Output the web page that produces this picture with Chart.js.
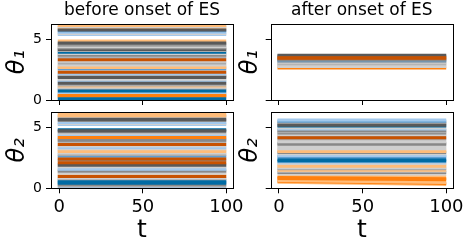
<!DOCTYPE html>
<html>
<head>
<meta charset="utf-8">
<script src="https://cdn.jsdelivr.net/npm/chart.js@4"></script>
<style>
    body { margin: 0; background: #fff; width: 463px; height: 245px; overflow: hidden; position: relative; }
    canvas { position: absolute; }
</style>
</head>
<body>
<canvas id="topLeft" width="240" height="110" style="left:0;top:0"></canvas>
<canvas id="topRight" width="227" height="110" style="left:236px;top:0"></canvas>
<canvas id="bottomLeft" width="246" height="139" style="left:0;top:106px"></canvas>
<canvas id="bottomRight" width="227" height="139" style="left:236px;top:106px"></canvas>
<script>
// time span of every line and the ticks shown
const timeSteps = [0, 99];
const xTicks = [0, 50, 100];
const yTicks = [0, 5];

// phase of each oscillator (constant in time) and its colour-cycle slot
// (first entries are drawn on top)
const theta1Before = [3.32, 2.3, 4.72, 1.85, 1.38, 0.38, 0.1, 0.75, 5.78,
    6.15, 6.05, 6.0, 5.85, 5.72, 5.6, 5.5, 5.42, 4.88, 4.62, 4.5, 4.4, 4.3, 4.18, 4.1, 3.95, 3.85, 3.72, 3.62, 3.5, 3.2, 3.05, 2.9, 2.78, 2.68, 2.58, 2.45, 2.18, 2.05, 1.95, 1.72, 1.6, 1.5, 1.25, 1.15, 1.05, 0.95, 0.85, 0.65, 0.55, 0.45, 0.3, 0.2];
const theta1BeforeSlot = [5, 5, 3, 3, 3, 1, 0, 0, 3,
    8, 9, 8, 2, 4, 7, 9, 7, 8, 6, 2, 9, 6, 3, 2, 0, 9, 6, 2, 7, 9, 2, 9, 8, 8, 4, 9, 7, 2, 6, 9, 7, 7, 2, 8, 9, 2, 7, 7, 9, 2, 1, 9];

const theta1After = [3.46, 3.5, 3.7, 3.64, 3.58, 3.36, 3.3, 3.24, 3.16, 3.08, 3.0, 2.92, 2.84, 2.76, 2.64];
const theta1AfterSlot = [5, 5, 3, 6, 2, 6, 6, 4, 2, 9, 2, 9, 9, 9, 1];

const theta2Before = [3.62, 2.42, 2.12, 0.98, 4.75, 5.68, 1.9, 4.2, 4.85,
    6.1, 6.0, 5.92, 5.85, 5.6, 5.45, 5.35, 5.28, 4.68, 4.55, 4.45, 4.35, 4.1, 3.98, 3.88, 3.75, 3.5, 3.38, 3.28, 3.15, 3.05, 2.92, 2.8, 2.65, 2.55, 2.32, 2.0, 1.78, 1.68, 1.58, 1.45, 1.38, 1.25, 1.12, 0.88, 0.78, 0.62, 0.52, 0.42, 0.32, 0.2, 0.08];
const theta2BeforeSlot = [5, 5, 5, 5, 3, 3, 3, 1, 0,
    8, 8, 2, 9, 6, 7, 9, 7, 6, 9, 7, 2, 6, 6, 2, 9, 9, 7, 9, 8, 8, 9, 2, 4, 9, 6, 2, 9, 7, 7, 6, 2, 9, 8, 9, 2, 0, 0, 0, 6, 2, 7];

// after onset a few oscillators drift slightly, so start and end differ
const theta2AfterStart = [4.18, 5.22, 2.35, 0.9, 0.8,
    5.65, 5.55, 5.45, 5.35, 5.15, 5.0, 4.9, 4.78, 4.68, 4.58, 4.45, 4.32, 4.1, 3.98, 3.85, 3.72, 3.65, 3.52, 3.4, 3.28, 3.15, 3.05, 2.95, 2.85, 2.72, 2.62, 2.5, 2.25, 2.18, 2.05, 1.95, 1.82, 1.72, 1.62, 1.5, 1.42, 1.3, 1.18, 1.0, 0.65, 0.58, 0.5];
const theta2AfterEnd = [4.18, 5.22, 2.35, 0.8, 0.7,
    5.65, 5.55, 5.45, 5.35, 5.15, 5.0, 4.9, 4.78, 4.68, 4.58, 4.45, 4.32, 4.1, 3.98, 3.85, 3.72, 3.65, 3.52, 3.4, 3.28, 3.15, 3.05, 2.95, 2.85, 2.72, 2.62, 2.5, 2.25, 2.18, 2.05, 1.95, 1.82, 1.72, 1.62, 1.5, 1.42, 1.3, 1.18, 0.95, 0.48, 0.4, 0.32];
const theta2AfterSlot = [5, 3, 0, 1, 1,
    7, 4, 2, 6, 0, 9, 7, 6, 2, 6, 9, 2, 2, 9, 9, 6, 6, 9, 9, 9, 8, 8, 6, 9, 7, 4, 7, 0, 7, 9, 8, 8, 9, 2, 8, 9, 6, 9, 8, 8, 1, 8];

// tableau-colorblind10 cycle
const palette = ['#006BA4', '#FF800E', '#ABABAB', '#595959', '#5F9ED1', '#C85200', '#898989', '#A2C8EC', '#FFBC79', '#CFCFCF'];
const FONT = 'DejaVu Sans';

const boxPlugin = {
    id: 'box',
    afterDraw(chart) {
        const a = chart.chartArea;
        const ctx = chart.ctx;
        ctx.save();
        ctx.strokeStyle = '#000';
        ctx.lineWidth = 1;
        ctx.strokeRect(Math.round(a.left) + 0.5, Math.round(a.top) + 0.5,
            Math.round(a.right) - Math.round(a.left), Math.round(a.bottom) - Math.round(a.top));
        ctx.restore();
    }
};

function makeDatasets(start, end, slot) {
    return start.map((v, i) => ({
        data: [{ x: timeSteps[0], y: v }, { x: timeSteps[1], y: end[i] }],
        borderColor: palette[slot[i]],
        borderWidth: 3,
        borderCapStyle: 'square',
        pointRadius: 0,
        fill: false
    }));
}

function makePanel(id, cfg) {
    new Chart(document.getElementById(id), {
        type: 'line',
        data: { datasets: makeDatasets(cfg.start, cfg.end, cfg.slot) },
        plugins: [boxPlugin],
        options: {
            responsive: false,
            animation: false,
            events: [],
            layout: { padding: cfg.padding },
            plugins: {
                legend: { display: false },
                tooltip: { enabled: false },
                title: {
                    display: !!cfg.title,
                    text: cfg.title || '',
                    fullSize: false,
                    color: '#000',
                    font: { family: FONT, size: 17, weight: 'normal' },
                    padding: { top: 0, bottom: 3.6 }
                }
            },
            scales: {
                x: {
                    type: 'linear',
                    min: -4.95,
                    max: 103.95,
                    afterBuildTicks: s => { s.ticks = xTicks.map(v => ({ value: v })); },
                    afterFit: s => { s.height = cfg.xHeight; s.paddingLeft = 0; s.paddingRight = 0; },
                    border: { display: false },
                    grid: { drawOnChartArea: false, tickLength: 5, color: '#000' },
                    ticks: { display: cfg.showX, color: '#000', padding: 3, maxRotation: 0, autoSkip: false,
                        font: { family: FONT, size: 18 } },
                    title: { display: cfg.showX, text: 't', color: '#000', padding: { top: 0, bottom: 0 },
                        font: { family: FONT, size: 25 } }
                },
                y: {
                    type: 'linear',
                    min: 0,
                    max: 2 * Math.PI,
                    afterBuildTicks: s => { s.ticks = yTicks.map(v => ({ value: v })); },
                    afterFit: s => { s.width = cfg.yWidth; s.paddingTop = 0; s.paddingBottom = 0; },
                    border: { display: false },
                    grid: { drawOnChartArea: false, tickLength: 5, color: '#000' },
                    ticks: { display: cfg.showY, color: '#000', padding: 4,
                        font: { family: FONT, size: 14 } },
                    title: { display: true, text: cfg.yLabel, color: '#000', padding: { top: cfg.yTitlePad, bottom: 0 },
                        font: { family: FONT, size: 24, style: 'italic' } }
                }
            }
        }
    });
}

makePanel('topLeft', {
    start: theta1Before, end: theta1Before, slot: theta1BeforeSlot,
    title: 'before onset of ES', yLabel: 'θ₁',
    padding: { left: 0, top: 0, right: 7, bottom: 0 },
    xHeight: 10, yWidth: 51, showX: false, showY: true, yTitlePad: 3
});
makePanel('topRight', {
    start: theta1After, end: theta1After, slot: theta1AfterSlot,
    title: 'after onset of ES', yLabel: 'θ₁',
    padding: { left: 0, top: 0, right: 10, bottom: 0 },
    xHeight: 10, yWidth: 34.7, showX: false, showY: false, yTitlePad: 0
});
makePanel('bottomLeft', {
    start: theta2Before, end: theta2Before, slot: theta2BeforeSlot,
    yLabel: 'θ₂',
    padding: { left: 0, top: 6.3, right: 13, bottom: 0 },
    xHeight: 56.7, yWidth: 51, showX: true, showY: true, yTitlePad: 3
});
makePanel('bottomRight', {
    start: theta2AfterStart, end: theta2AfterEnd, slot: theta2AfterSlot,
    yLabel: 'θ₂',
    padding: { left: 0, top: 6.3, right: 10, bottom: 0 },
    xHeight: 56.7, yWidth: 34.7, showX: true, showY: false, yTitlePad: 0
});
</script>
</body>
</html>
